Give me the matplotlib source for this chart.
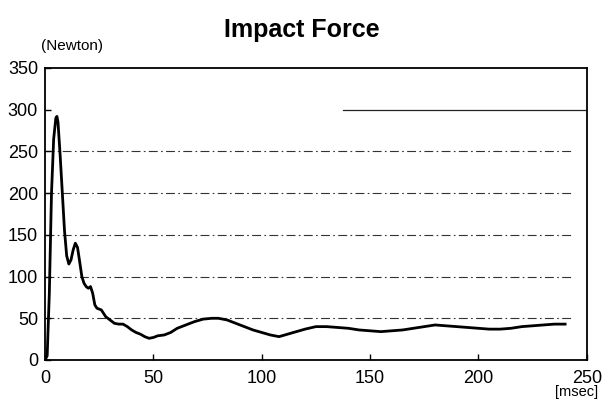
import matplotlib
matplotlib.use("Agg")
import matplotlib.pyplot as plt

plt.rcParams['font.family'] = ['Liberation Sans', 'DejaVu Sans']

# time [msec] and force [Newton]
time_ms = [0, 1, 2, 3, 4, 5, 5.5, 6, 7, 8, 9, 10, 11, 12, 13, 14, 15, 16, 17,
           18, 19, 20, 21, 22, 23, 24, 26, 28, 30, 32, 34, 36, 38, 40, 42, 44,
           46, 48, 50, 52, 55, 58, 61, 65, 69, 73, 77, 80, 84, 88, 92, 96, 100,
           104, 108, 112, 116, 120, 125, 130, 135, 140, 145, 150, 155, 160,
           165, 170, 175, 180, 185, 190, 195, 200, 205, 210, 215, 220, 225,
           230, 235, 240]
force_n = [0, 5, 80, 200, 265, 290, 292, 285, 245, 200, 155, 125, 115, 120,
           132, 140, 135, 118, 100, 92, 88, 86, 88, 80, 66, 62, 60, 52, 48, 44,
           43, 43, 40, 36, 33, 31, 28, 26, 27, 29, 30, 33, 38, 42, 46, 49, 50,
           50, 48, 44, 40, 36, 33, 30, 28, 31, 34, 37, 40, 40, 39, 38, 36, 35,
           34, 35, 36, 38, 40, 42, 41, 40, 39, 38, 37, 37, 38, 40, 41, 42, 43,
           43]

grid_levels = [50, 100, 150, 200, 250]
xticks = [0, 50, 100, 150, 200, 250]
yticks = [0, 50, 100, 150, 200, 250, 300, 350]

fig = plt.figure(figsize=(6.04, 4.0), dpi=100)
ax = fig.add_axes([0.0745, 0.10, 0.897, 0.73])

for lev in grid_levels:
    ax.axhline(lev, xmin=0.0, xmax=0.97, color="#333333", lw=0.8,
               ls=(0, (8, 3, 1.5, 3)), zorder=1)
# the 300 line only runs over the right half in the original
ax.axhline(300, xmin=0.55, xmax=1.0, color="#222222", lw=0.9, zorder=1)

ax.plot(time_ms, force_n, color="black", lw=2.0, zorder=3)

ax.set_xlim(0, 250)
ax.set_ylim(0, 350)
ax.set_xticks(xticks)
ax.set_yticks(yticks)
ax.tick_params(direction="in", length=4, labelsize=13, width=1)
ax.tick_params(axis="x", pad=7)
ax.tick_params(axis="y", pad=5)
for s in ax.spines.values():
    s.set_linewidth(1.3)

fig.text(0.5, 0.925, "Impact Force", ha="center", va="center",
         fontsize=18, fontweight="bold")
fig.text(0.068, 0.885, "(Newton)", ha="left", va="center", fontsize=11)
fig.text(0.99, 0.003, "[msec]", ha="right", va="bottom", fontsize=10.5)

fig.savefig("out.png", dpi=100)
